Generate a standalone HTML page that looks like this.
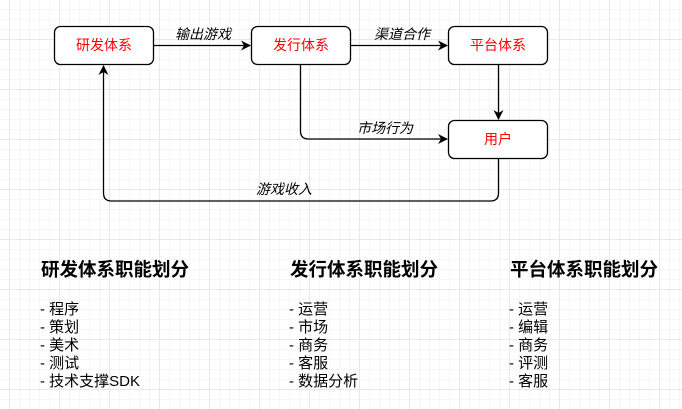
<!DOCTYPE html>
<html><head><meta charset="utf-8"><style>
body{margin:0;width:682px;height:409px;overflow:hidden;background:#fff;
background-image:linear-gradient(#e8e8e8 1px,transparent 1px),linear-gradient(90deg,#e8e8e8 1px,transparent 1px),linear-gradient(#f6f6f6 1px,transparent 1px),linear-gradient(90deg,#f6f6f6 1px,transparent 1px);
background-size:50px 50px,50px 50px,10px 10px,10px 10px;background-position:0 39px,9px 0,0 9px,9px 0;
font-family:"Liberation Sans","Noto Sans CJK SC",sans-serif;position:relative}
h3{position:absolute;margin:0;font-size:18.5px;font-weight:bold;top:256px}
.l{position:absolute;top:301px;font-size:15px;line-height:18px}
</style></head><body>
<svg width="682" height="409" style="position:absolute;left:0;top:0">
<defs><marker id="a" markerWidth="10" markerHeight="10" refX="9" refY="5" orient="auto" markerUnits="userSpaceOnUse"><path d="M0,0 L10,5 L0,10 L3,5z" fill="#000"/></marker></defs>
<g fill="#fff" stroke="#000" stroke-width="1.3">
<rect x="54.5" y="26.5" width="99" height="38" rx="6"/>
<rect x="251.5" y="26.5" width="99" height="38" rx="6"/>
<rect x="448.5" y="26.5" width="99" height="38" rx="6"/>
<rect x="448.5" y="120.5" width="99" height="38" rx="6"/>
</g>
<g fill="none" stroke="#000" stroke-width="1.3">
<path d="M154 45.5H250" marker-end="url(#a)"/>
<path d="M351 45.5H447" marker-end="url(#a)"/>
<path d="M498.5 65V119" marker-end="url(#a)"/>
<path d="M300.5 65V131Q300.5 139 308.5 139H447" marker-end="url(#a)"/>
<path d="M498.5 159V193Q498.5 201 490.5 201H111.5Q103.5 201 103.5 193V66" marker-end="url(#a)"/>
</g>
<g font-size="14" fill="red" text-anchor="middle" font-family="Liberation Sans,Noto Sans CJK SC,sans-serif">
<text x="104" y="50">研发体系</text><text x="301" y="50">发行体系</text><text x="498" y="50">平台体系</text><text x="498" y="144">用户</text>
</g>
<g font-size="14" font-style="italic" text-anchor="middle" font-family="Liberation Sans,Noto Sans CJK SC,sans-serif">
<text x="203" y="39">输出游戏</text><text x="402" y="39">渠道合作</text><text x="385" y="133">市场行为</text><text x="284" y="194">游戏收入</text>
</g>
</svg>
<h3 style="left:41px">研发体系职能划分</h3>
<h3 style="left:290px">发行体系职能划分</h3>
<h3 style="left:510px">平台体系职能划分</h3>
<div class="l" style="left:40px">- 程序<br>- 策划<br>- 美术<br>- 测试<br>- 技术支撑SDK</div>
<div class="l" style="left:289px">- 运营<br>- 市场<br>- 商务<br>- 客服<br>- 数据分析</div>
<div class="l" style="left:509px">- 运营<br>- 编辑<br>- 商务<br>- 评测<br>- 客服</div>
</body></html>
